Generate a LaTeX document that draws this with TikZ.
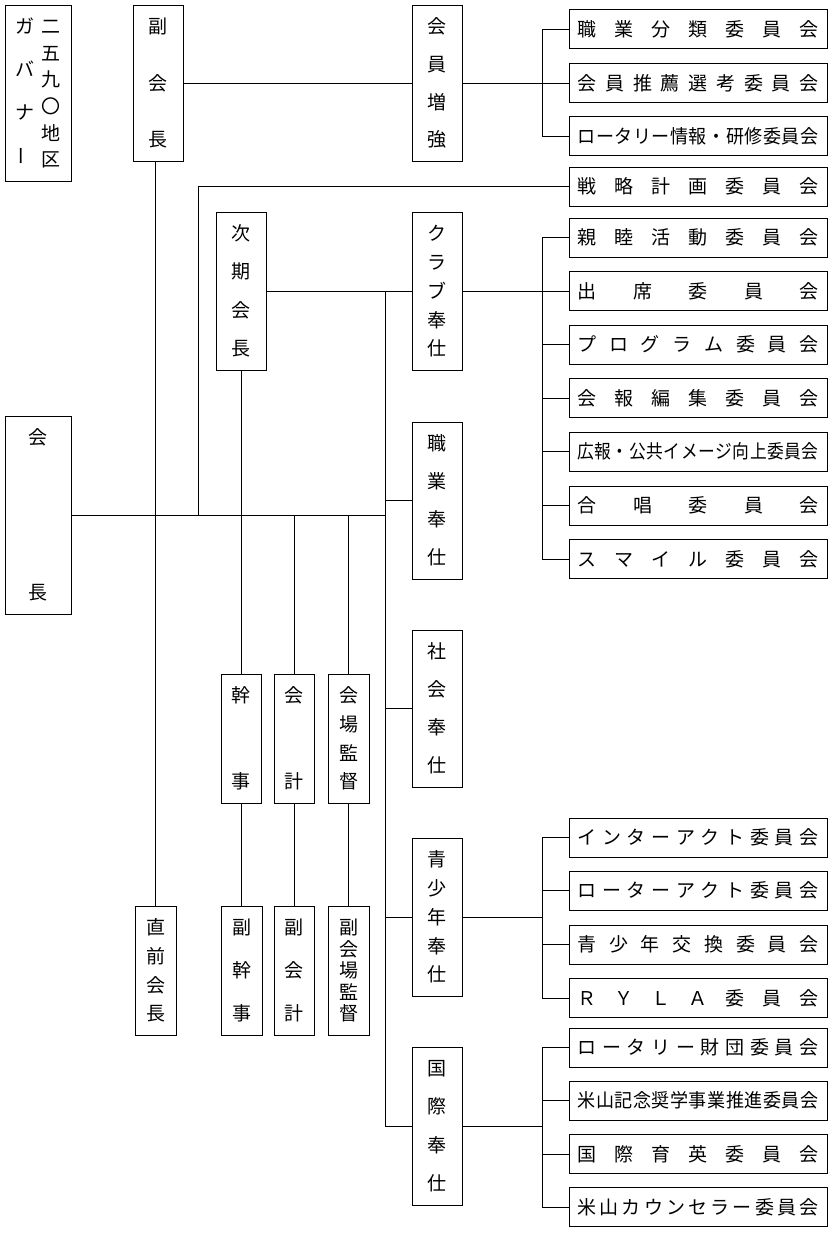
\documentclass[tikz,border=0pt]{standalone}
\usepackage{fontspec}
\usepackage{graphicx}
\newfontfamily\jp{Noto Sans CJK JP}
\newcommand\ch[1]{\hbox to 19pt{\hss\vrule height 16.7pt depth 2.3pt width 0pt #1\hss}}
\newcommand\vt[2]{\vbox to #1pt{\offinterlineskip #2}}
\newcommand\hj[1]{\hbox to 241pt{#1}}
\newcommand\hjs[3]{\scalebox{#1}[1]{\hbox to #2pt{#3}}}
\newcommand\vbar{\ch{\raisebox{7pt}{\rotatebox[origin=c]{90}{ー}}}}
\tikzset{
  bx/.style={draw, line width=0.9pt, inner sep=0pt, outer sep=0pt, rectangle, font=\jp\fontsize{19}{19}\selectfont},
  cmte/.style={bx, minimum width=258pt, minimum height=39pt},
  ln/.style={line width=0.9pt}
}
\begin{document}
\begin{tikzpicture}[x=1pt,y=-1pt]
\useasboundingbox (0,0) rectangle (836,1234);
% left column boxes
\node[bx, minimum width=66, minimum height=176] (gov) at (38,93) {\hbox{\vt{150}{\ch{ガ}\vfill\ch{バ}\vfill\ch{ナ}\vfill\vbar}\hskip8pt\vt{150}{\ch{二}\vfill\ch{五}\vfill\ch{九}\vfill\ch{〇}\vfill\ch{地}\vfill\ch{区}}}};
\node[bx, minimum width=66, minimum height=198] (kaicho) at (38,515) {\vt{172}{\ch{会}\vfill\ch{長}}};
\node[bx, minimum width=50, minimum height=156] (fuku) at (158,83) {\vt{130}{\ch{副}\vfill\ch{会}\vfill\ch{長}}};
\node[bx, minimum width=50, minimum height=158] (jiki) at (241,291) {\vt{132}{\ch{次}\vfill\ch{期}\vfill\ch{会}\vfill\ch{長}}};
\node[bx, minimum width=40, minimum height=129] (kanji) at (241,738.5) {\vt{103}{\ch{幹}\vfill\ch{事}}};
\node[bx, minimum width=40, minimum height=129] (kaikei) at (294,738.5) {\vt{103}{\ch{会}\vfill\ch{計}}};
\node[bx, minimum width=41, minimum height=129] (kaijo) at (348.5,738.5) {\vt{103}{\ch{会}\vfill\ch{場}\vfill\ch{監}\vfill\ch{督}}};
\node[bx, minimum width=41, minimum height=129] (choku) at (155.5,970.5) {\vt{103}{\ch{直}\vfill\ch{前}\vfill\ch{会}\vfill\ch{長}}};
\node[bx, minimum width=41, minimum height=129] (fkanji) at (241.5,970.5) {\vt{103}{\ch{副}\vfill\ch{幹}\vfill\ch{事}}};
\node[bx, minimum width=40, minimum height=129] (fkaikei) at (294,970.5) {\vt{103}{\ch{副}\vfill\ch{会}\vfill\ch{計}}};
\node[bx, minimum width=41, minimum height=129] (fkaijo) at (348.5,970.5) {\vt{103}{\ch{副}\vfill\ch{会}\vfill\ch{場}\vfill\ch{監}\vfill\ch{督}}};
% middle column
\node[bx, minimum width=50, minimum height=156] (zouk) at (437,83) {\vt{130}{\ch{会}\vfill\ch{員}\vfill\ch{増}\vfill\ch{強}}};
\node[bx, minimum width=50, minimum height=158] (club) at (437,291) {\vt{132}{\ch{ク}\vfill\ch{ラ}\vfill\ch{ブ}\vfill\ch{奉}\vfill\ch{仕}}};
\node[bx, minimum width=50, minimum height=157] (shoku) at (437,500.5) {\vt{131}{\ch{職}\vfill\ch{業}\vfill\ch{奉}\vfill\ch{仕}}};
\node[bx, minimum width=50, minimum height=157] (shakai) at (437,708.5) {\vt{131}{\ch{社}\vfill\ch{会}\vfill\ch{奉}\vfill\ch{仕}}};
\node[bx, minimum width=50, minimum height=158] (seisho) at (437,917) {\vt{132}{\ch{青}\vfill\ch{少}\vfill\ch{年}\vfill\ch{奉}\vfill\ch{仕}}};
\node[bx, minimum width=50, minimum height=158] (kokusai) at (437,1126) {\vt{132}{\ch{国}\vfill\ch{際}\vfill\ch{奉}\vfill\ch{仕}}};
% committees
\node[cmte] (c1) at (698,29) {\hj{職\hfill 業\hfill 分\hfill 類\hfill 委\hfill 員\hfill 会}};
\node[cmte] (c2) at (698,83) {\hj{会\hfill 員\hfill 推\hfill 薦\hfill 選\hfill 考\hfill 委\hfill 員\hfill 会}};
\node[cmte] (c3) at (698,136) {\hjs{0.95}{253.7}{ロ\hfill ー\hfill タ\hfill リ\hfill ー\hfill 情\hfill 報\hfill ・\hfill 研\hfill 修\hfill 委\hfill 員\hfill 会}};
\node[cmte] (c4) at (698,186.5) {\hj{戦\hfill 略\hfill 計\hfill 画\hfill 委\hfill 員\hfill 会}};
\node[cmte] (c5) at (698,237.5) {\hj{親\hfill 睦\hfill 活\hfill 動\hfill 委\hfill 員\hfill 会}};
\node[cmte] (c6) at (698,291) {\hj{出\hfill 席\hfill 委\hfill 員\hfill 会}};
\node[cmte] (c7) at (698,344.5) {\hj{プ\hfill ロ\hfill グ\hfill ラ\hfill ム\hfill 委\hfill 員\hfill 会}};
\node[cmte] (c8) at (698,398) {\hj{会\hfill 報\hfill 編\hfill 集\hfill 委\hfill 員\hfill 会}};
\node[cmte] (c9) at (698,451.5) {\hjs{0.88}{273.9}{広\hfill 報\hfill ・\hfill 公\hfill 共\hfill イ\hfill メ\hfill ー\hfill ジ\hfill 向\hfill 上\hfill 委\hfill 員\hfill 会}};
\node[cmte] (c10) at (698,505.5) {\hj{合\hfill 唱\hfill 委\hfill 員\hfill 会}};
\node[cmte] (c11) at (698,559) {\hj{ス\hfill マ\hfill イ\hfill ル\hfill 委\hfill 員\hfill 会}};
\node[cmte] (c12) at (698,837.5) {\hj{イ\hfill ン\hfill タ\hfill ー\hfill ア\hfill ク\hfill ト\hfill 委\hfill 員\hfill 会}};
\node[cmte] (c13) at (698,890.5) {\hj{ロ\hfill ー\hfill タ\hfill ー\hfill ア\hfill ク\hfill ト\hfill 委\hfill 員\hfill 会}};
\node[cmte] (c14) at (698,944.5) {\hj{青\hfill 少\hfill 年\hfill 交\hfill 換\hfill 委\hfill 員\hfill 会}};
\node[cmte] (c15) at (698,998) {\hj{Ｒ\hfill Ｙ\hfill Ｌ\hfill Ａ\hfill 委\hfill 員\hfill 会}};
\node[cmte] (c16) at (698,1047.5) {\hj{ロ\hfill ー\hfill タ\hfill リ\hfill ー\hfill 財\hfill 団\hfill 委\hfill 員\hfill 会}};
\node[cmte] (c17) at (698,1100.5) {\hjs{0.95}{253.7}{米\hfill 山\hfill 記\hfill 念\hfill 奨\hfill 学\hfill 事\hfill 業\hfill 推\hfill 進\hfill 委\hfill 員\hfill 会}};
\node[cmte] (c18) at (698,1154) {\hj{国\hfill 際\hfill 育\hfill 英\hfill 委\hfill 員\hfill 会}};
\node[cmte] (c19) at (698,1207) {\hj{米\hfill 山\hfill カ\hfill ウ\hfill ン\hfill セ\hfill ラ\hfill ー\hfill 委\hfill 員\hfill 会}};
% helper coordinates
\coordinate (bus) at (385,291);
\coordinate (bk) at (542,0);
\coordinate (sfoot) at (198,515);
% connectors
\draw[ln] (fuku.east) -- (zouk.west);
\draw[ln] (zouk.east) -- (c2.west);
\draw[ln] (c1.west) -- (c1.west -| bk) |- (c3.west);
\draw[ln] (choku.north |- fuku.south) -- (choku.north);
\draw[ln] (kaicho.east) -- (kaicho.east -| bus);
\draw[ln] (jiki.east) -- (club.west);
\draw[ln] (bus) |- (kokusai.west);
\draw[ln] (shoku.west) -- (shoku.west -| bus);
\draw[ln] (shakai.west) -- (shakai.west -| bus);
\draw[ln] (seisho.west) -- (seisho.west -| bus);
\draw[ln] (c4.west) -| (sfoot);
\draw[ln] (jiki.south) -- (kanji.north);
\draw[ln] (kanji.south) -- (kanji.south |- fkanji.north);
\draw[ln] (kaikei.north |- kaicho.east) -- (kaikei.north);
\draw[ln] (kaikei.south) -- (fkaikei.north);
\draw[ln] (kaijo.north |- kaicho.east) -- (kaijo.north);
\draw[ln] (kaijo.south) -- (fkaijo.north);
\draw[ln] (club.east) -- (c6.west);
\draw[ln] (c5.west) -- (c5.west -| bk) |- (c11.west);
\draw[ln] (c7.west) -- (c7.west -| bk);
\draw[ln] (c8.west) -- (c8.west -| bk);
\draw[ln] (c9.west) -- (c9.west -| bk);
\draw[ln] (c10.west) -- (c10.west -| bk);
\draw[ln] (seisho.east) -- (seisho.east -| bk);
\draw[ln] (c12.west) -- (c12.west -| bk) |- (c15.west);
\draw[ln] (c13.west) -- (c13.west -| bk);
\draw[ln] (c14.west) -- (c14.west -| bk);
\draw[ln] (kokusai.east) -- (kokusai.east -| bk);
\draw[ln] (c16.west) -- (c16.west -| bk) |- (c19.west);
\draw[ln] (c17.west) -- (c17.west -| bk);
\draw[ln] (c18.west) -- (c18.west -| bk);
\end{tikzpicture}
\end{document}
